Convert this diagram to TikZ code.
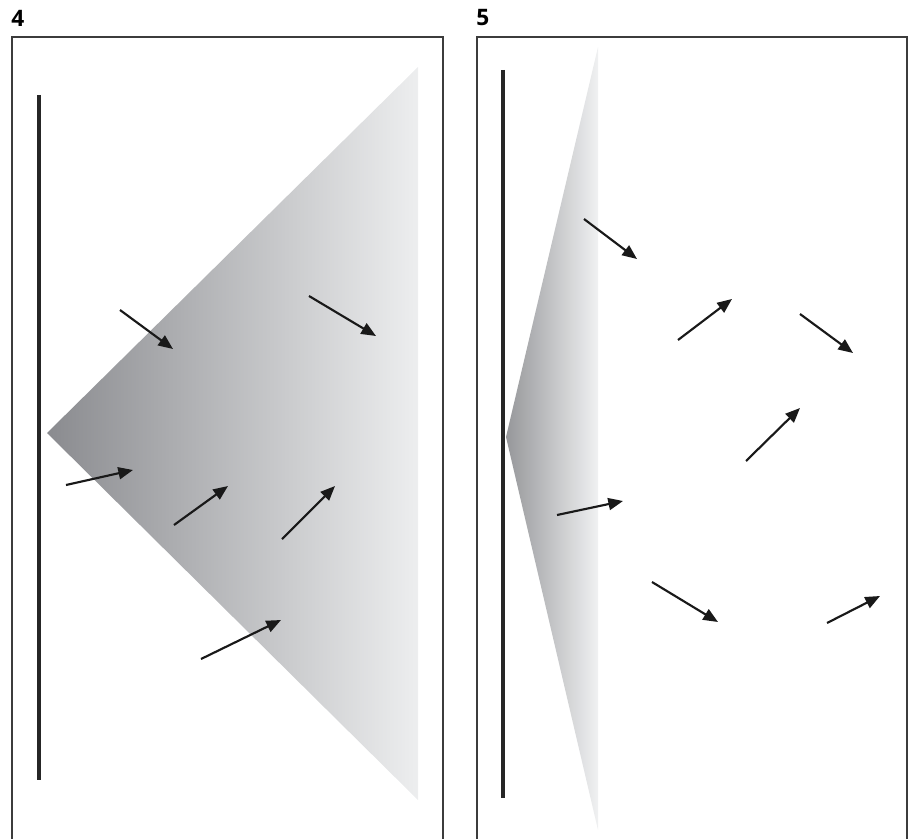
\documentclass[tikz,border=0pt]{standalone}
\usepackage{fontspec}
\setmainfont{Open Sans}
\usetikzlibrary{arrows.meta}
\definecolor{frameC}{RGB}{60,60,60}
\definecolor{darkL}{RGB}{138,139,143}
\definecolor{lightL}{RGB}{237,238,239}
\definecolor{darkR}{RGB}{150,151,154}
\definecolor{lightR}{RGB}{240,241,242}
\tikzset{
  panel/.style={draw=frameC, line width=1.2pt},
  wall/.style={draw=black!85, line width=2.5pt},
  vec/.style={draw=black!90, line width=1.6pt, -{Triangle[length=11pt,width=9pt]}},
  lbl/.style={font=\bfseries\fontsize{17}{19}\selectfont, anchor=west, inner sep=0pt}
}
\begin{document}
\begin{tikzpicture}[x=0.75pt,y=-0.75pt]
\useasboundingbox (0,0) rectangle (909,838);
% labels
\node[lbl] (l4) at (11,18) {4};
\node[lbl] (l5) at (476,18) {5};
% frames (open at bottom)
\draw[panel] (12,840) -- (12,37) -- (443,37) -- (443,840);
\draw[panel] (477,840) -- (477,37) -- (907,37) -- (907,840);
% left panel
\shade[left color=darkL, right color=lightL] (47,433) -- (418,67) -- (418,800) -- cycle;
\draw[wall] (39,95) -- (39,780);
\draw[vec] (120,310) -- (173,349);
\draw[vec] (309,296) -- (376,336);
\draw[vec] (66,485) -- (133,470);
\draw[vec] (174,525) -- (228,486);
\draw[vec] (282,539) -- (335,486);
\draw[vec] (201,659) -- (281,620);
% right panel
\shade[left color=darkR, right color=lightR] (506,437) -- (598,47) -- (598,830) -- cycle;
\draw[wall] (503,70) -- (503,798);
\draw[vec] (584,219) -- (637,259);
\draw[vec] (678,340) -- (732,299);
\draw[vec] (800,314) -- (853,353);
\draw[vec] (746,461) -- (800,408);
\draw[vec] (557,515) -- (623,501);
\draw[vec] (652,582) -- (718,622);
\draw[vec] (827,623) -- (880,596);
\end{tikzpicture}
\end{document}
